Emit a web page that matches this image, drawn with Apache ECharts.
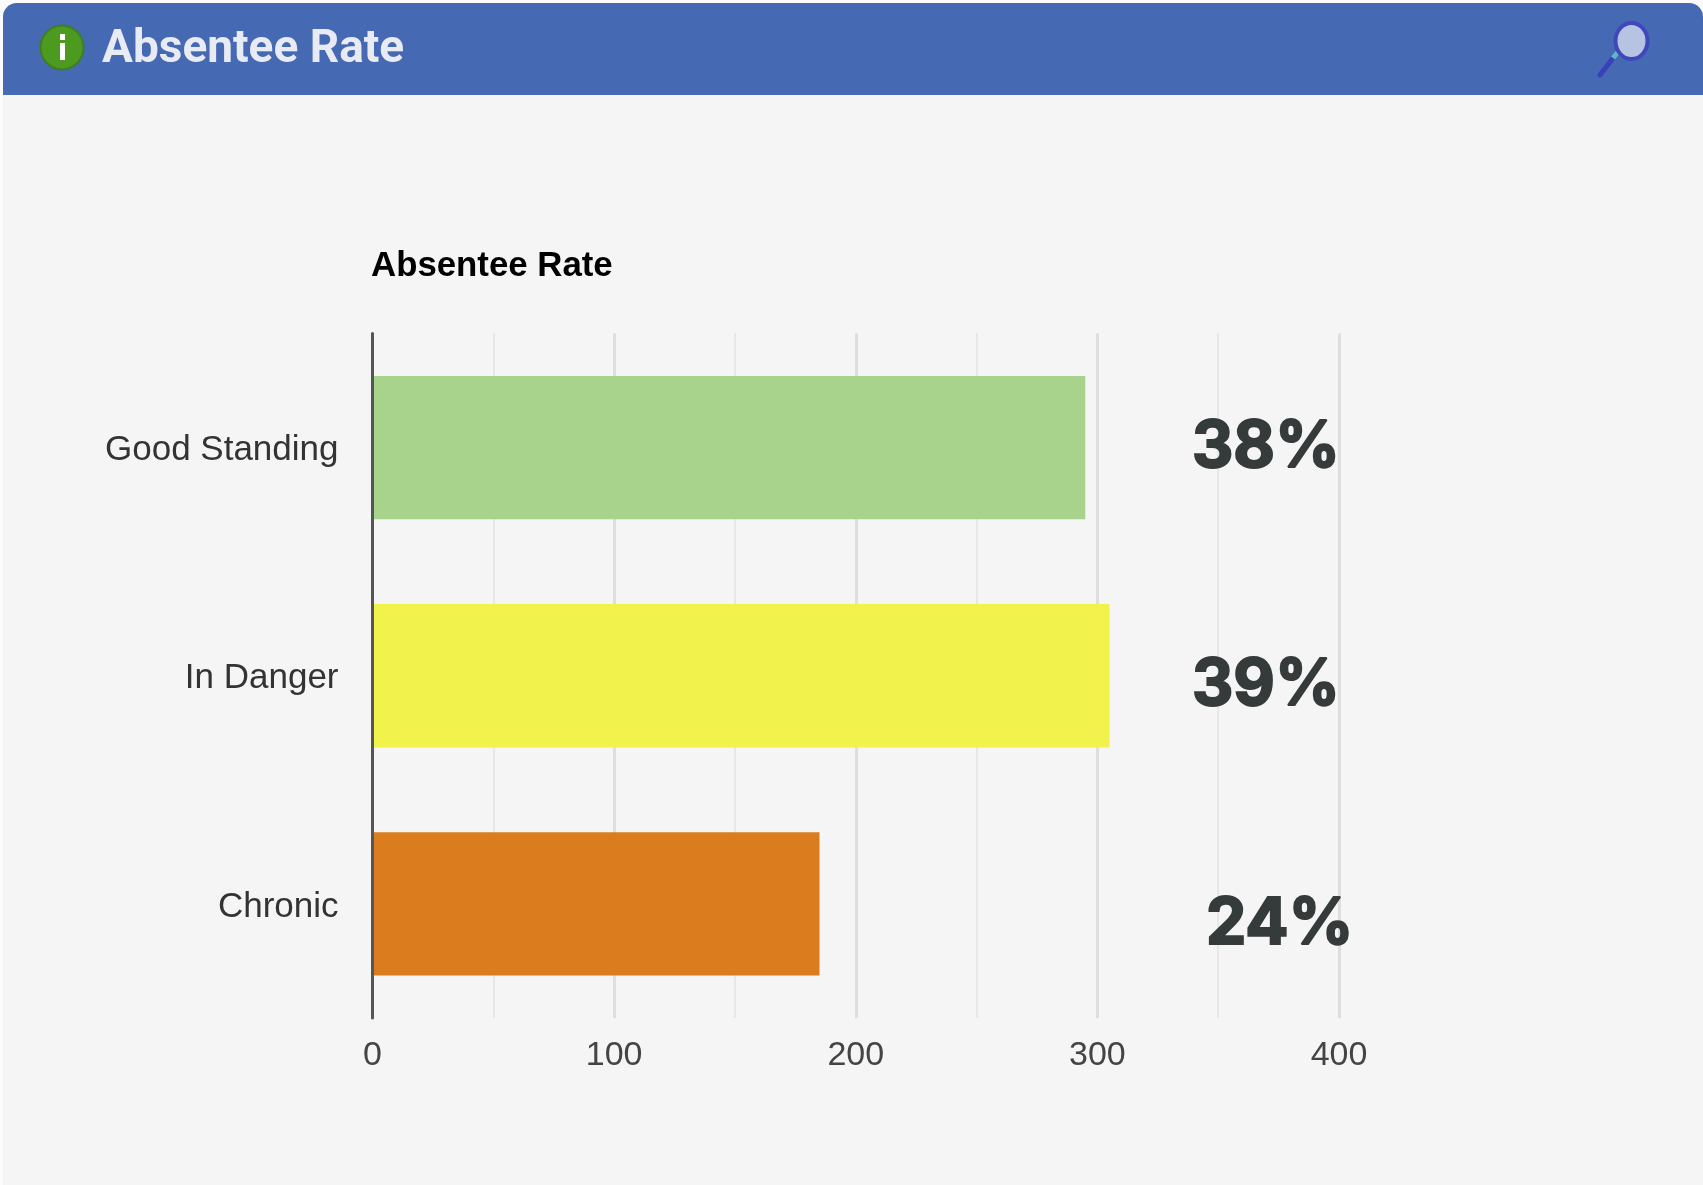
<!DOCTYPE html>
<html><head><meta charset="utf-8">
<style>html,body{margin:0;padding:0;background:#fbfbfb}#c{width:1703px;height:1185px}</style>
<script src="https://cdn.jsdelivr.net/npm/echarts@6/dist/echarts.min.js"></script>
</head><body><div id="c"></div>
<script>
const categories = ['Good Standing', 'In Danger', 'Chronic'];
const values = [295, 305, 185];
const colors = ['#a7d38d', '#f2f24c', '#db7c1e'];
const percents = ['38%', '39%', '24%'];
const heading = 'Absentee Rate';

const chart = echarts.init(document.getElementById('c'));
const pctLeft = [1191, 1191, 1205];
const pctMid = [446, 684, 923];
chart.setOption({
  animation: false,
  backgroundColor: 'transparent',
  title: { text: heading, left: 366, top: 244, textStyle: { fontFamily: 'Liberation Sans', fontWeight: 'bold', fontSize: 34.8, color: '#000' } },
  grid: { left: 372.5, top: 333.5, width: 966.5, height: 684.5 },
  xAxis: {
    type: 'value', min: 0, max: 400, interval: 100,
    axisLine: { show: false }, axisTick: { show: false },
    axisLabel: { fontFamily: 'Liberation Sans', fontSize: 34, color: '#444', margin: 21 },
    splitLine: { show: true, lineStyle: { color: '#dedede', width: 3 } },
    minorTick: { show: false, splitNumber: 2 },
    minorSplitLine: { show: true, lineStyle: { color: '#e6e8e8', width: 2 } }
  },
  yAxis: {
    type: 'category', inverse: true, data: categories, z: 5,
    axisLine: { show: true, lineStyle: { color: '#555', width: 3 } }, axisTick: { show: false },
    axisLabel: {
      margin: 34, formatter: '{a|{value}}',
      rich: { a: { fontFamily: 'Liberation Sans', fontSize: 35, color: '#333', padding: [6, 0, 0, 0] } }
    },
    splitLine: { show: false }
  },
  series: [{
    type: 'bar', barWidth: '62.8%', z: 3,
    data: values.map((v, i) => ({ value: v, itemStyle: { color: colors[i] } }))
  }],
  graphic: [
    { type: 'rect', z: -10, silent: true, shape: { x: 3, y: 3, width: 1700, height: 1182, r: [14, 14, 0, 0] }, style: { fill: '#f5f5f5' } },
    { type: 'rect', z: -9, silent: true, shape: { x: 3, y: 3, width: 1700, height: 92, r: [14, 14, 0, 0] }, style: { fill: '#4569b2' } },
    { type: 'ellipse', z: 10, silent: true, shape: { cx: 62, cy: 47.5, rx: 21.5, ry: 22 }, style: { fill: '#4c9a1f', stroke: '#3d7f22', lineWidth: 2 } },
    { type: 'rect', z: 11, silent: true, shape: { x: 60, y: 43, width: 5, height: 17 }, style: { fill: '#fff' } },
    { type: 'rect', z: 11, silent: true, shape: { x: 60, y: 34, width: 5, height: 6 }, style: { fill: '#fff' } },
    { type: 'text', z: 11, silent: true, left: 102, top: 27, style: { text: heading, fontFamily: 'Roboto', fontWeight: 'bold', fontSize: 46, fill: '#e8ebf3' } },
    { type: 'line', z: 10, silent: true, shape: { x1: 1600, y1: 75, x2: 1613, y2: 58 }, style: { stroke: '#3a40b8', lineWidth: 5, lineCap: 'round' } },
    { type: 'line', z: 10, silent: true, shape: { x1: 1613, y1: 58, x2: 1618, y2: 52 }, style: { stroke: '#5fb6c8', lineWidth: 5 } },
    { type: 'ellipse', z: 10, silent: true, shape: { cx: 1631.5, cy: 41, rx: 16, ry: 18 }, style: { fill: '#b6c3e2', stroke: '#3f47bb', lineWidth: 4 } },
  ].concat(percents.map((p, i) => ({
    type: 'text', z: 12, silent: true, left: pctLeft[i], top: pctMid[i] - 31,
    style: { text: p, fontFamily: 'Inter', fontWeight: 'bold', fontSize: 64, fill: '#353a3a', stroke: '#353a3a', lineWidth: 2 }
  })))
});
</script></body></html>
